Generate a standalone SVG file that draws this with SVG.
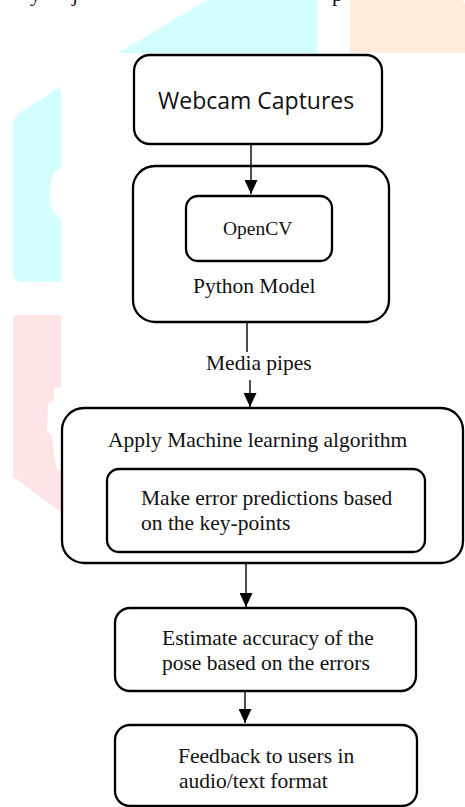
<svg xmlns="http://www.w3.org/2000/svg" width="465" height="807" viewBox="0 0 465 807">
  <style>
    .box { fill: #ffffff; stroke: #000000; stroke-width: 2.3; }
    .inner { fill: none; stroke: #000000; stroke-width: 2.3; }
    .serif { font-family: "Liberation Serif", "Times New Roman", serif; font-size: 21.5px; fill: #111111; }
    .sans { font-family: "Open Sans", "Noto Sans", sans-serif; font-size: 23px; fill: #111111; }
    .conn { stroke: #000000; stroke-width: 1.4; fill: none; }
    .cyan { fill: #d3feff; }
    .pink { fill: #fee4e4; }
    .peach { fill: #ffecdb; }
  </style>
  <defs>
    <marker id="arrow" viewBox="0 0 14 13" refX="14" refY="6.5" markerWidth="14" markerHeight="13" markerUnits="userSpaceOnUse" orient="auto">
      <path d="M0,0 L14,6.5 L0,13 Z" fill="#000000"/>
    </marker>
  </defs>

  <rect width="465" height="807" fill="#ffffff"/>

  <g id="background">
    <polygon class="cyan" points="118,53 207,0 317,0 317,53"/>
    <polygon class="peach" points="350,0 462,0 465,4 465,53 350,53"/>
    <path class="cyan" d="M13,126 Q13,117 21,112 L61,87 L61,168 C53,170 50,180 50,192 C50,206 53,215 61,218 L61,282 L23,282 Q13,282 13,272 Z"/>
    <path class="pink" d="M18,315 L61,315 L61,387 L54,388 L54,400 L48,404 L47,432 L52,436 L54,455 L57,470 L61,470 L61,512 L13,477 L13,320 Q13,315 18,315 Z"/>
    <text class="serif" x="30" y="1">y</text>
    <text class="serif" x="72" y="1">j</text>
    <text class="serif" x="332" y="1">p</text>
  </g>

  <g id="connectors">
    <line class="conn" x1="251" y1="144" x2="251" y2="194" marker-end="url(#arrow)"/>
    <line class="conn" x1="247" y1="322" x2="247" y2="352"/>
    <line class="conn" x1="250" y1="380" x2="250" y2="407" marker-end="url(#arrow)"/>
    <line class="conn" x1="246" y1="563" x2="246" y2="607" marker-end="url(#arrow)"/>
    <line class="conn" x1="245" y1="691" x2="245" y2="723" marker-end="url(#arrow)"/>
    <text class="serif" x="206" y="370">Media pipes</text>
  </g>

  <g id="webcam">
    <rect class="box" x="134" y="55" width="248" height="89" rx="16"/>
    <text class="sans" x="158" y="109">Webcam Captures</text>
  </g>

  <g id="python-model">
    <rect class="inner" x="133" y="166" width="256" height="156" rx="22"/>
    <text class="serif" x="193" y="293">Python Model</text>
  </g>

  <g id="opencv">
    <rect class="box" x="186" y="196" width="146" height="65" rx="12"/>
    <text class="serif" x="223" y="235" style="font-size:19.5px">OpenCV</text>
  </g>

  <g id="apply-ml">
    <rect class="inner" x="62" y="408" width="401" height="155" rx="22"/>
    <text class="serif" x="108" y="447">Apply Machine learning algorithm</text>
  </g>

  <g id="error-predictions">
    <rect class="box" x="107" y="469" width="318" height="83" rx="12"/>
    <text class="serif" x="141" y="505">Make error predictions based</text>
    <text class="serif" x="141" y="530">on the key-points</text>
  </g>

  <g id="estimate-accuracy">
    <rect class="box" x="115" y="608" width="301" height="83" rx="15"/>
    <text class="serif" x="162" y="645">Estimate accuracy of the</text>
    <text class="serif" x="162" y="670">pose based on the errors</text>
  </g>

  <g id="feedback">
    <rect class="box" x="115" y="725" width="302" height="81" rx="15"/>
    <text class="serif" x="178" y="763">Feedback to users in</text>
    <text class="serif" x="179" y="788">audio/text format</text>
  </g>
</svg>
